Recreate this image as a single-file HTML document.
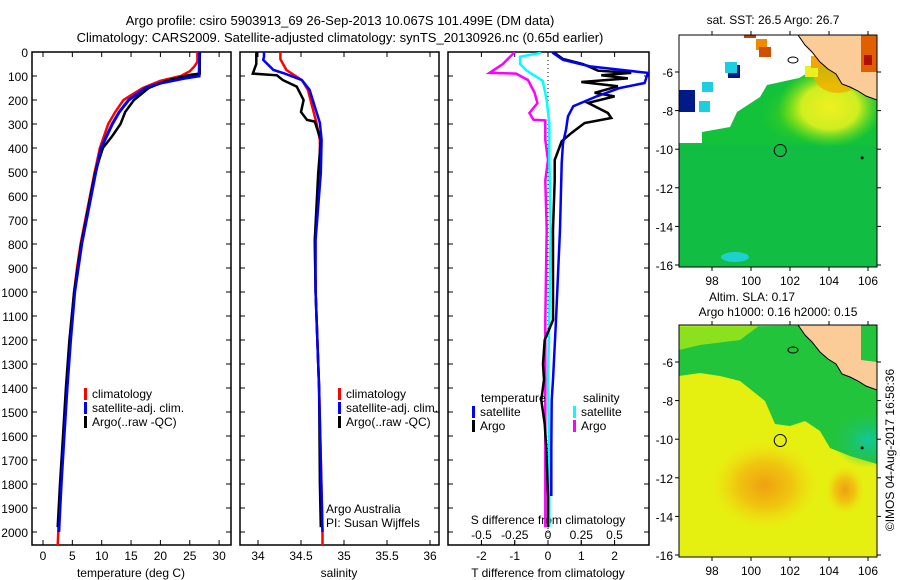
<!DOCTYPE html>
<html><head><meta charset="utf-8"><style>
html,body{margin:0;padding:0;background:#fff}
svg{display:block;font-family:"Liberation Sans",sans-serif}
text{fill:#000}
</style></head><body>
<svg id="fig" width="900" height="580" viewBox="0 0 900 580">
<text x="340" y="25" font-size="13" text-anchor="middle">Argo profile: csiro 5903913_69 26-Sep-2013 10.067S 101.499E (DM data)</text>
<text x="340" y="42" font-size="13" text-anchor="middle">Climatology: CARS2009. Satellite-adjusted climatology: synTS_20130926.nc (0.65d earlier)</text>
<g id="g1"></g>
<g id="g2"></g>
<g id="g3"></g>
<g id="m1"></g>
<g id="m2"></g>
<text transform="translate(894,450) rotate(-90)" font-size="12" text-anchor="middle">©IMOS 04-Aug-2017 16:58:36</text>
</svg>
<script>
// ---- data ----
const depthTicks=[0,100,200,300,400,500,600,700,800,900,1000,1100,1200,1300,1400,1500,1600,1700,1800,1900,2000];
const tempTicks=[0,5,10,15,20,25,30];
const salTicks=[34,34.5,35,35.5,36];
const tdiffTicks=[-2,-1,0,1,2];
const sdiffTicks=[-0.5,-0.25,0,0.25,0.5];
const sdiffLabels=["-0.5","-0.25","0","0.25","0.5"];
const climTD=[0,40,60,80,100,120,150,200,250,300,400,500,600,700,800,900,1000,1200,1400,1600,1800,2000,2055];
const climT=[26.3,26.3,25.8,25,23.5,20,17,13.7,12.3,11.1,9.7,8.8,8,7.2,6.4,5.8,5.3,4.6,4.0,3.5,3.0,2.6,2.5];
const satTD=[0,100,110,130,150,200,250,300,400,500,600,700,800,1000,1200,1400,1600,1800,2000];
const satT=[26.7,26.6,24,20,17.5,14.6,13,11.8,9.9,9.0,8.2,7.4,6.6,5.4,4.7,4.1,3.6,3.1,2.7];
const argoTD=[0,90,95,120,150,200,250,300,350,400,500,600,700,800,1000,1200,1400,1600,1800,1980];
const argoT=[26.7,26.7,25,21,18,15.5,14,13.2,11.8,10.2,8.9,8.1,7.3,6.5,5.3,4.5,3.9,3.4,2.9,2.5];
const climSD=[0,30,75,117,158,296,367,505,783,1000,1400,2000,2055];
const climS=[34.26,34.26,34.33,34.51,34.58,34.68,34.72,34.72,34.66,34.67,34.71,34.75,34.75];
const satSD=[0,20,33,75,90,117,158,296,367,505,783,1000,1400,2000];
const satS=[34.07,34.07,34.06,34.18,34.31,34.51,34.6,34.72,34.74,34.73,34.67,34.67,34.71,34.75];
const argoSD=[0,50,90,97,117,144,200,250,283,290,367,505,783,1000,1400,1800,1980];
const argoS=[33.98,33.98,33.94,34.22,34.29,34.45,34.53,34.5,34.57,34.66,34.73,34.7,34.66,34.67,34.71,34.72,34.73];
const dTD=[0,4,33,60,87,129,150,185,226,268,324,380,463,740,1117,1366,1450,1650,1850];
const satDT=[0.15,0.15,0.45,1.26,3.0,2.9,2.16,1.46,0.76,0.6,0.54,0.45,0.41,0.36,0.24,0.15,0.11,0.1,0.1];
const aTD=[0,4,29,50,78,87,97,110,125,143,170,185,212,254,275,296,338,372,450,535,740,1117,1200,1300,1366,1450,1550,1650,1850,1980];
const argoDT=[0.2,0.2,0.45,1.05,1.5,2.5,1.6,2.4,1.0,2.1,1.4,2.0,1.2,1.8,1.9,1.1,0.7,0.41,0.2,0.2,0.15,0.15,-0.1,-0.15,-0.12,-0.2,-0.1,-0.05,0,0];
const sTD=[0,4,20,50,78,120,200,300,450,740,1117,1366,1700,1980];
const satDS=[-0.06,-0.06,-0.21,-0.21,-0.16,-0.04,-0.01,0.01,0.01,0.02,0.01,0.0,0.01,0.01];
const mTD=[0,50,87,90,117,171,213,254,282,285,366,450,535,740,1117,1366,1700,1980];
const argoDS=[-0.25,-0.34,-0.44,-0.24,-0.15,-0.1,-0.08,-0.14,-0.11,-0.02,-0.02,0,-0.02,-0.01,-0.02,-0.02,-0.02,-0.02];
const lonTicks=[98,100,102,104,106];
const latTicks=[-6,-8,-10,-12,-14,-16];
const argoLon=101.499, argoLat=-10.067;

// ---- helpers ----
const NS="http://www.w3.org/2000/svg";
function mk(p,tag,at){const e=document.createElementNS(NS,tag);for(const k in at)e.setAttribute(k,at[k]);p.appendChild(e);return e;}
function txt(p,x,y,s,anchor,size){const t=mk(p,'text',{x:x,y:y,'font-size':size||12,'text-anchor':anchor||'start'});t.textContent=s;return t;}
const Y=d=>52+d*0.24;
const X1=v=>43+v*5.87, X2=v=>258+(v-34)*86, X3=v=>548+v*33.3, XS=v=>548+v*133;
function line(p,xs,ds,xf,col,w,name,clip){
  const pts=xs.map((v,i)=>xf(v).toFixed(1)+','+Y(ds[i]).toFixed(1)).join(' ');
  const e=mk(p,'polyline',{points:pts,fill:'none',stroke:col,'stroke-width':w,'stroke-linejoin':'miter'});
  if(clip)e.setAttribute('clip-path',clip);
  
  
}
function frame(p,x0,x1,name){
  const r=mk(p,'rect',{x:x0,y:52,width:x1-x0,height:493,fill:'none',stroke:'#000','stroke-width':1.5});
  
  
  depthTicks.forEach(d=>{mk(p,'line',{x1:x0,x2:x0+5,y1:Y(d),y2:Y(d),stroke:'#000'});mk(p,'line',{x1:x1-5,x2:x1,y1:Y(d),y2:Y(d),stroke:'#000'});});
}
function xticks(p,ticks,xf,labels,ly){
  ticks.forEach((v,i)=>{const x=xf(v);mk(p,'line',{x1:x,x2:x,y1:545,y2:540,stroke:'#000'});mk(p,'line',{x1:x,x2:x,y1:52,y2:57,stroke:'#000'});
  const t=txt(p,x,ly,labels?labels[i]:String(v),'middle');
  
  });
}
function legend(p,x,y,col,label){
  mk(p,'rect',{x:x,y:y-10,width:3,height:12,fill:col});
  const t=txt(p,x+8,y,label);
  
  
}
// ---- panel 1 ----
const g1=document.getElementById('g1');
frame(g1,32,231,'temperature-plot-frame');
depthTicks.forEach(d=>{const t=txt(g1,28,Y(d)+5,String(d),'end');
 
 });
xticks(g1,tempTicks,X1,null,560);
txt(g1,131,577,'temperature (deg C)','middle');
line(g1,climT,climTD,X1,'#f00',2.5,'climatology-temp-line');
line(g1,satT,satTD,X1,'#00f',3,'satellite-temp-line');
line(g1,argoT,argoTD,X1,'#000',2.5,'argo-temp-line');
line(g1,satT,satTD,X1,'#00f',2,'satellite-temp-line-top');
legend(g1,84,398,'#f00','climatology');
legend(g1,84,412,'#00f','satellite-adj. clim.');
legend(g1,84,426,'#000','Argo(..raw -QC)');
// ---- panel 2 ----
const g2=document.getElementById('g2');
frame(g2,240,439,'salinity-plot-frame');
xticks(g2,salTicks,X2,null,560);
txt(g2,339,577,'salinity','middle');
line(g2,climS,climSD,X2,'#f00',2.5,'climatology-salinity-line');
line(g2,argoS,argoSD,X2,'#000',2.5,'argo-salinity-line');
line(g2,satS,satSD,X2,'#00f',2.5,'satellite-salinity-line');
legend(g2,338,398,'#f00','climatology');
legend(g2,338,412,'#00f','satellite-adj. clim.');
legend(g2,338,426,'#000','Argo(..raw -QC)');
txt(g2,326,513,'Argo Australia');
txt(g2,326,527,'PI: Susan Wijffels');
// ---- panel 3 ----
const g3=document.getElementById('g3');
const cp=mk(g3,'clipPath',{id:'c3'});mk(cp,'rect',{x:448,y:52,width:201,height:493});
frame(g3,448,649,'difference-plot-frame');
mk(g3,'line',{x1:548,x2:548,y1:52,y2:545,stroke:'#000','stroke-dasharray':'1,3'});
xticks(g3,tdiffTicks,X3,null,560);
sdiffTicks.forEach((v,i)=>{const x=XS(v);mk(g3,'line',{x1:x,x2:x,y1:545,y2:540,stroke:'#000'});
 const t=txt(g3,x,539,sdiffLabels[i],'middle');
 
 });
txt(g3,548,524,'S difference from climatology','middle');
txt(g3,548,577,'T difference from climatology','middle');
line(g3,argoDS,mTD,XS,'#f0f',2.5,'argo-salinity-diff-line','url(#c3)');
line(g3,satDS,sTD,XS,'#0ff',2.5,'satellite-salinity-diff-line','url(#c3)');
line(g3,argoDT,aTD,X3,'#000',2.5,'argo-temp-diff-line','url(#c3)');
line(g3,satDT,dTD,X3,'#00f',2.5,'satellite-temp-diff-line','url(#c3)');
txt(g3,481,402,'temperature');
txt(g3,583,402,'salinity');
legend(g3,472,416,'#00f','satellite');
legend(g3,472,430,'#000','Argo');
legend(g3,573,416,'#0ff','satellite');
legend(g3,573,430,'#f0f','Argo');
// ---- maps ----
function map(id,y0,kind){
  const g=document.getElementById(id);
  const LX=lon=>712+(lon-98)*19.5, LY=lat=>y0+(-6-lat)*19.3;
  const top=y0-37, bot=y0+195;
  const cid='cl'+id;
  const c=mk(g,'clipPath',{id:cid});mk(c,'rect',{x:679,y:top,width:198,height:bot-top});
  const b=mk(g,'g',{'clip-path':'url(#'+cid+')'});
  const defs=mk(g,'defs',{});
  function rg(idn,stops){const r=mk(defs,'radialGradient',{id:idn});stops.forEach(s=>mk(r,'stop',{offset:s[0],'stop-color':s[1],'stop-opacity':s[2]}));}
  const P=a=>a.map(p=>p[0]+','+(p[1]-35+top)).join(' ');
  if(kind==='sst'){
    mk(b,'rect',{x:679,y:top,width:198,height:bot-top,fill:'#12c23a'});
    mk(b,'rect',{x:679,y:top+110,width:198,height:bot-top-110,fill:'#10b84c','opacity':0.5});
    rg('gs',[[0,'#60d818',1],[1,'#30cc20',0]]);
    mk(b,'ellipse',{cx:800,cy:top+80,rx:40,ry:30,fill:'url(#gs)'});
    rg('ys',[[0,'#f0f020',1],[0.55,'#d8f020',0.95],[1,'#80e010',0]]);
    mk(b,'ellipse',{cx:830,cy:top+72,rx:52,ry:40,fill:'url(#ys)'});
    mk(b,'ellipse',{cx:838,cy:top+38,rx:25,ry:20,fill:'#f0b000',opacity:0.85});
    mk(b,'ellipse',{cx:735,cy:bot-10,rx:14,ry:5,fill:'#20d0d0'});
    mk(b,'polygon',{points:P([[679,35],[798,35],[818,52],[816,68],[799,78],[767,85],[760,97],[737,112],[730,127],[702,132],[702,143],[679,143]]),fill:'#fff'});
    [[679,90,16,22,'#001a8a'],[728,65,12,13,'#001a8a'],[725,62,12,11,'#1ccfe0'],[702,82,11,10,'#1ccfe0'],[699,101,11,11,'#1ccfe0'],[756,39,11,11,'#f08a00'],[759,47,12,10,'#d05000'],[744,35,12,3,'#c04000'],[805,66,13,11,'#e8f020'],[811,56,12,12,'#f0a800']].forEach(r=>mk(b,'rect',{x:r[0],y:r[1]-35+top,width:r[2],height:r[3],fill:r[4]}));
  } else {
    mk(b,'rect',{x:679,y:top,width:198,height:bot-top,fill:'#e6f010'});
    rg('or',[[0,'#f0a010',1],[0.5,'#f0c010',0.9],[1,'#f0e010',0]]);
    mk(b,'ellipse',{cx:765,cy:top+160,rx:55,ry:45,fill:'url(#or)'});
    mk(b,'ellipse',{cx:845,cy:top+165,rx:20,ry:25,fill:'url(#or)'});
    mk(b,'polygon',{points:P([[679,37],[877,35],[877,174],[850,166],[830,158],[820,141],[805,131],[790,136],[775,134],[765,111],[740,91],[720,86],[700,83],[679,86]]),fill:'#22c43c'});
    mk(b,'polygon',{points:P([[679,35],[760,35],[740,50],[700,55],[679,60]]),fill:'#a8e818',opacity:0.8});
    rg('tl',[[0,'#10c8a0',1],[1,'#20c060',0]]);
    mk(b,'ellipse',{cx:868,cy:top+115,rx:35,ry:28,fill:'url(#tl)'});
  }
  // land
  mk(b,'polygon',{points:P([[798,35],[877,35],[877,100],[866,96],[858,91],[850,87],[842,84],[836,74],[828,69],[820,62],[812,52],[805,45]]),fill:'#fccc98',stroke:'#000','stroke-width':1});
  if(kind==='sst'){mk(b,'rect',{x:861,y:top,width:16,height:37,fill:'#e06000'});mk(b,'rect',{x:864,y:top+20,width:8,height:10,fill:'#b01000'});}
  else mk(b,'polygon',{points:P([[861,35],[877,35],[877,72],[861,70]]),fill:'#22c43c'});
  mk(b,'ellipse',{cx:793,cy:top+25,rx:5,ry:3,fill:'none',stroke:'#000'});
  mk(b,'circle',{cx:LX(argoLon),cy:LY(argoLat),r:6,fill:'none',stroke:'#000','stroke-width':1});
  mk(b,'circle',{cx:LX(105.7),cy:LY(-10.45),r:1.5,fill:'#000'});
  const fr=mk(g,'rect',{x:679,y:top,width:198,height:bot-top,fill:'none',stroke:'#000'});
  
  
  latTicks.forEach(l=>{const y=LY(l);mk(g,'line',{x1:679,x2:675,y1:y,y2:y,stroke:'#000'});mk(g,'line',{x1:877,x2:881,y1:y,y2:y,stroke:'#000'});
    const t=txt(g,673,y+5,String(l),'end');
    
    });
  lonTicks.forEach(l=>{const x=LX(l);mk(g,'line',{x1:x,x2:x,y1:bot,y2:bot+4,stroke:'#000'});mk(g,'line',{x1:x,x2:x,y1:top,y2:top-4,stroke:'#000'});
    const t=txt(g,x,bot+18,String(l),'middle');
    
    });
}
map('m1',72,'sst');
map('m2',362,'sla');
txt(document.getElementById('m1'),773,24,'sat. SST: 26.5 Argo: 26.7','middle');
txt(document.getElementById('m2'),752,301,'Altim. SLA: 0.17','middle');
txt(document.getElementById('m2'),778,316,'Argo h1000: 0.16 h2000: 0.15','middle');
</script>
</body></html>
